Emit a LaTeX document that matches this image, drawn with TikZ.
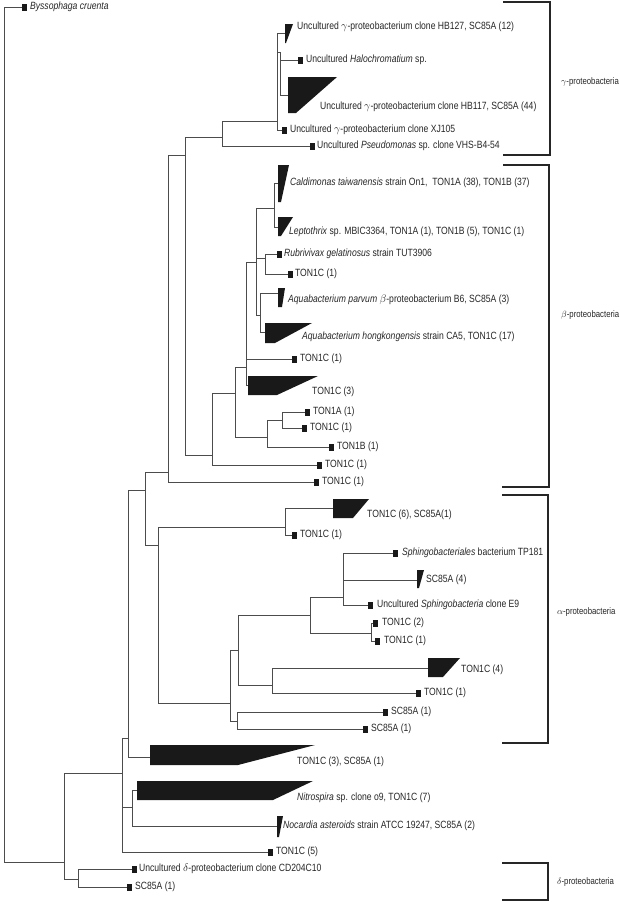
\documentclass[tikz,border=0pt]{standalone}
\usepackage{fontspec}
\setmainfont{Liberation Sans}[FakeStretch=0.82]
\usetikzlibrary{positioning}

\begin{document}
\begin{tikzpicture}[x=1pt, y=-1pt, every node/.style={font=\fontsize{10.5}{12}\selectfont, text=black!85},
			br/.style={draw=black!70, line width=0.7pt},
			tip/.style={fill=black!90, minimum width=4.5pt, minimum height=7pt, inner sep=0pt, anchor=west},
			lab/.style={inner sep=1pt, anchor=west},
			grp/.style={inner sep=0pt, anchor=west, font=\fontsize{9.5}{11}\selectfont},
			clade/.style={fill=black!90},
			brk/.style={draw=black!85, line width=1.1pt}]
			\useasboundingbox (0,0) rectangle (619,908);
			% root, outgroup and delta
			\coordinate (root) at (4,862);
			\coordinate (dA) at (64,862);
			\coordinate (dD) at (78,879);
			\node[tip] (tbys) at (22,7) {};
			\node[lab, right=2pt of tbys] (lbys) {\textit{Byssophaga cruenta}};
			\node[tip] (tcd) at (132,869) {};
			\node[lab, right=1pt of tcd] (lcd) {Uncultured $\delta$-proteobacterium clone CD204C10};
			\node[tip] (tsd) at (127,887) {};
			\node[lab, right=2pt of tsd] (lsd) {SC85A (1)};
			\draw[br] (root) |- (tbys.west);
			\draw[br] (root) -- (dA);
			\draw[br] (dA) |- (dD);
			\draw[br] (dD) |- (tcd.west);
			\draw[br] (dD) |- (tsd.west);
			% lower clades
			\coordinate (cB) at (122,773);
			\coordinate (cC) at (128,738);
			\coordinate (cN) at (132,807);
			\coordinate (ktsa) at (150,757);
			\fill[clade] (150,745) -- (315,745) -- (238,765) -- (150,765) -- cycle;
			\node[lab] (ltsa) at (296,762) {TON1C (3), SC85A (1)};
			\coordinate (knit) at (137,790);
			\fill[clade] (137,781) -- (313,781) -- (273,800) -- (137,800) -- cycle;
			\node[lab] (lnit) at (296,798) {\textit{Nitrospira} sp. clone o9, TON1C (7)};
			\coordinate (knoc) at (277,826);
			\fill[clade] (277,816) -- (283,816) -- (279,837) -- (277,837) -- cycle;
			\node[lab] (lnoc) at (282,826) {\textit{Nocardia asteroids} strain ATCC 19247, SC85A (2)};
			\node[tip] (tt5) at (268,852) {};
			\node[lab, right=2pt of tt5] (lt5) {TON1C (5)};
			\draw[br] (dA) |- (cB);
			\draw[br] (cB) |- (cC);
			\draw[br] (cB) |- (cN);
			\draw[br] (cB) |- (tt5.west);
			\draw[br] (cN) |- (knit);
			\draw[br] (cN) |- (knoc);
			\draw[br] (cC) |- (ktsa);
			% backbone
			\coordinate (cD) at (145,490);
			\coordinate (cE) at (168,472);
			\coordinate (cF) at (185,155);
			\node[tip] (te1) at (314,482) {};
			\node[lab, right=2pt of te1] (le1) {TON1C (1)};
			\draw[br] (cC) |- (cD);
			\draw[br] (cD) |- (cE);
			\draw[br] (cE) |- (cF);
			\draw[br] (cE) |- (te1.west);
			% gamma
			\coordinate (g0) at (222,137);
			\coordinate (ga) at (277,121);
			\coordinate (gb) at (280,52);
			\coordinate (khb127) at (285,33);
			\fill[clade] (285,24) -- (293,24) -- (286,43) -- (285,43) -- cycle;
			\node[lab] (lhb127) at (296,27) {Uncultured $\gamma$-proteobacterium clone HB127, SC85A (12)};
			\node[tip] (thal) at (298,60) {};
			\node[lab, right=2pt of thal] (lhal) {Uncultured \textit{Halochromatium} sp.};
			\coordinate (khb117) at (288,95);
			\fill[clade] (288,77) -- (337,77) -- (296,113) -- (288,113) -- cycle;
			\node[lab] (lhb117) at (319,107) {Uncultured $\gamma$-proteobacterium clone HB117, SC85A (44)};
			\node[tip] (txj) at (282,130) {};
			\node[lab, right=2pt of txj] (lxj) {Uncultured $\gamma$-proteobacterium clone XJ105};
			\node[tip] (tps) at (310,146) {};
			\node[lab, right=1pt of tps] (lps) {Uncultured \textit{Pseudomonas} sp. clone VHS-B4-54};
			\draw[br] (cF) |- (g0);
			\draw[br] (g0) |- (ga);
			\draw[br] (g0) |- (tps.west);
			\draw[br] (ga) |- (khb127);
			\draw[br] (ga) |- (gb);
			\draw[br] (ga) |- (txj.west);
			\draw[br] (gb) |- (thal.west);
			\draw[br] (gb) |- (khb117);
			% beta
			\coordinate (b0) at (212,455);
			\coordinate (b1) at (235,393);
			\coordinate (b2) at (246,367);
			\coordinate (b3) at (256,262);
			\coordinate (b4) at (274,208);
			\coordinate (b5) at (265,258);
			\coordinate (b6) at (260,315);
			\coordinate (b7) at (267,437);
			\coordinate (b8) at (282,420);
			\coordinate (kcal) at (278,183);
			\fill[clade] (278,165) -- (289,165) -- (281,202) -- (278,202) -- cycle;
			\node[lab] (lcal) at (289,183) {\textit{Caldimonas taiwanensis} strain On1,~ TON1A (38), TON1B (37)};
			\coordinate (klep) at (278,227);
			\fill[clade] (278,217) -- (293,217) -- (281,236) -- (278,236) -- cycle;
			\node[lab] (llep) at (288,232) {\textit{Leptothrix} sp. MBIC3364, TON1A (1), TON1B (5), TON1C (1)};
			\node[tip] (trub) at (277,254) {};
			\node[lab, right=1pt of trub] (lrub) {\textit{Rubrivivax gelatinosus} strain TUT3906};
			\node[tip] (tb1) at (288,274) {};
			\node[lab, right=1pt of tb1] (lb1) {TON1C (1)};
			\coordinate (kpar) at (278,293);
			\fill[clade] (278,288) -- (285,288) -- (282,307) -- (278,307) -- cycle;
			\node[lab] (lpar) at (287,300) {\textit{Aquabacterium parvum} $\beta$-proteobacterium B6, SC85A (3)};
			\coordinate (khon) at (265,332);
			\fill[clade] (265,323) -- (312,323) -- (275,343) -- (265,343) -- cycle;
			\node[lab] (lhon) at (301,337) {\textit{Aquabacterium hongkongensis} strain CA5, TON1C (17)};
			\node[tip] (tb2) at (292,359) {};
			\node[lab, right=2pt of tb2] (lb2) {TON1C (1)};
			\coordinate (kb3) at (248,385);
			\fill[clade] (248,376) -- (318,376) -- (277,395) -- (248,395) -- cycle;
			\node[lab] (lkb3) at (311,392) {TON1C (3)};
			\node[tip] (tb4) at (305,412) {};
			\node[lab, right=2pt of tb4] (lb4) {TON1A (1)};
			\node[tip] (tb5) at (302,428) {};
			\node[lab, right=2pt of tb5] (lb5) {TON1C (1)};
			\node[tip] (tb6) at (329,447) {};
			\node[lab, right=2pt of tb6] (lb6) {TON1B (1)};
			\node[tip] (tb7) at (317,465) {};
			\node[lab, right=2pt of tb7] (lb7) {TON1C (1)};
			\draw[br] (cF) |- (b0);
			\draw[br] (b0) |- (b1);
			\draw[br] (b0) |- (tb7.west);
			\draw[br] (b1) |- (b2);
			\draw[br] (b1) |- (b7);
			\draw[br] (b2) |- (b3);
			\draw[br] (b2) |- (tb2.west);
			\draw[br] (b2) |- (kb3);
			\draw[br] (b3) |- (b4);
			\draw[br] (b3) |- (b5);
			\draw[br] (b3) |- (b6);
			\draw[br] (b4) |- (kcal);
			\draw[br] (b4) |- (klep);
			\draw[br] (b5) |- (trub.west);
			\draw[br] (b5) |- (tb1.west);
			\draw[br] (b6) |- (kpar);
			\draw[br] (b6) |- (khon);
			\draw[br] (b7) |- (b8);
			\draw[br] (b7) |- (tb6.west);
			\draw[br] (b8) |- (tb4.west);
			\draw[br] (b8) |- (tb5.west);
			% alpha
			\coordinate (a0) at (158,545);
			\coordinate (a1) at (285,527);
			\coordinate (a2) at (230,703);
			\coordinate (a3) at (238,650);
			\coordinate (a4) at (310,615);
			\coordinate (a5) at (272,685);
			\coordinate (a6) at (237,721);
			\coordinate (a7) at (343,597);
			\coordinate (a8) at (371,633);
			\coordinate (ka1) at (333,508);
			\fill[clade] (333,499) -- (369,499) -- (353,518) -- (333,518) -- cycle;
			\node[lab] (lka1) at (366,515) {TON1C (6), SC85A(1)};
			\node[tip] (ta1) at (292,535) {};
			\node[lab, right=2pt of ta1] (la1) {TON1C (1)};
			\node[tip] (tsph) at (393,553) {};
			\node[lab, right=3pt of tsph] (lsph) {\textit{Sphingobacteriales} bacterium TP181};
			\coordinate (ka2) at (417,580);
			\fill[clade] (417,570) -- (424,570) -- (419,588) -- (417,588) -- cycle;
			\node[lab] (lka2) at (425,580) {SC85A (4)};
			\node[tip] (te9) at (368,605) {};
			\node[lab, right=3pt of te9] (le9) {Uncultured \textit{Sphingobacteria} clone E9};
			\node[tip] (ta2) at (373,623) {};
			\node[lab, right=3pt of ta2] (la2) {TON1C (2)};
			\node[tip] (ta3) at (375,641) {};
			\node[lab, right=3pt of ta3] (la3) {TON1C (1)};
			\coordinate (ka3) at (428,668);
			\fill[clade] (428,658) -- (460,658) -- (443,677) -- (428,677) -- cycle;
			\node[lab] (lka3) at (460,670) {TON1C (4)};
			\node[tip] (ta4) at (416,693) {};
			\node[lab, right=2pt of ta4] (la4) {TON1C (1)};
			\node[tip] (ta5) at (383,712) {};
			\node[lab, right=2pt of ta5] (la5) {SC85A (1)};
			\node[tip] (ta6) at (363,729) {};
			\node[lab, right=2pt of ta6] (la6) {SC85A (1)};
			\draw[br] (cD) |- (a0);
			\draw[br] (a0) |- (a1);
			\draw[br] (a0) |- (a2);
			\draw[br] (a1) |- (ka1);
			\draw[br] (a1) |- (ta1.west);
			\draw[br] (a2) |- (a3);
			\draw[br] (a2) |- (a6);
			\draw[br] (a3) |- (a4);
			\draw[br] (a3) |- (a5);
			\draw[br] (a4) |- (a7);
			\draw[br] (a4) |- (a8);
			\draw[br] (a7) |- (tsph.west);
			\draw[br] (a7) |- (ka2);
			\draw[br] (a7) |- (te9.west);
			\draw[br] (a8) |- (ta2.west);
			\draw[br] (a8) |- (ta3.west);
			\draw[br] (a5) |- (ka3);
			\draw[br] (a5) |- (ta4.west);
			\draw[br] (a6) |- (ta5.west);
			\draw[br] (a6) |- (ta6.west);
			% group brackets
			\draw[brk] (503,2) -- (550,2) -- (550,155) -- (503,155);
			\draw[brk] (503,165) -- (549,165) -- (549,487) -- (502,487);
			\draw[brk] (502,495) -- (548,495) -- (548,743) -- (502,743);
			\draw[brk] (502,863) -- (548,863) -- (548,900) -- (502,900);
			\node[grp] (ngam) at (561,82) {$\gamma$-proteobacteria};
			\node[grp] (nbet) at (561,315) {$\beta$-proteobacteria};
			\node[grp] (nalp) at (557,612) {$\alpha$-proteobacteria};
			\node[grp] (ndel) at (557,882) {$\delta$-proteobacteria};
		\end{tikzpicture}
\end{document}
